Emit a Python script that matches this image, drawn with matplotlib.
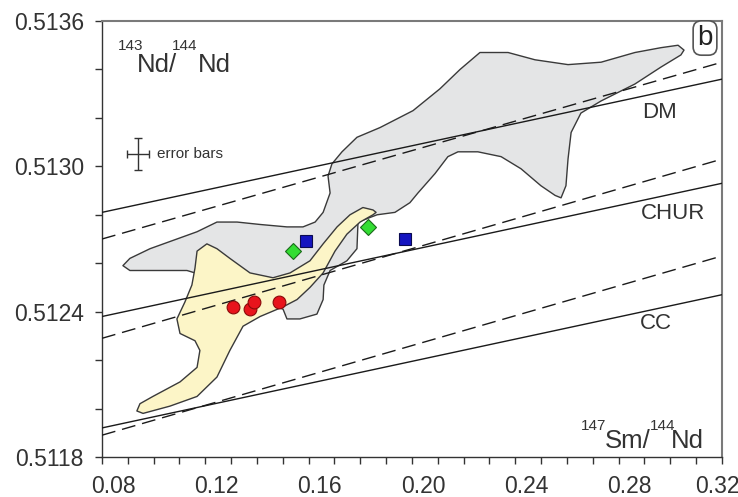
import matplotlib.pyplot as plt
import matplotlib.transforms as mtransforms
from matplotlib.ticker import MultipleLocator, FormatStrFormatter

plt.rcParams['font.family'] = ['Liberation Sans', 'DejaVu Sans']

# reference lines, values at x = 0.08 and x = 0.32
line_x = [0.08, 0.32]
dm_solid = [0.51281, 0.51336]
dm_dash = [0.51270, 0.51343]
chur_solid = [0.51238, 0.51293]
chur_dash = [0.51229, 0.51303]
cc_solid = [0.51192, 0.51247]
cc_dash = [0.51189, 0.51263]

# grey field outline
gray_x = [0.0881, 0.0908, 0.0986, 0.1090, 0.1168, 0.1245, 0.1323, 0.1412, 0.1516, 0.1578,
          0.1625, 0.1656, 0.1683, 0.1675, 0.1690, 0.1729, 0.1787, 0.1876, 0.2004, 0.2108,
          0.2186, 0.2263, 0.2372, 0.2476, 0.2604, 0.2732, 0.2863, 0.2964, 0.3030, 0.3053,
          0.3041, 0.2964, 0.2863, 0.2732, 0.2654, 0.2616, 0.2604, 0.2596, 0.2577, 0.2554,
          0.2499, 0.2422, 0.2345, 0.2255, 0.2178, 0.2139, 0.2089, 0.2023, 0.1992, 0.1934,
          0.1865, 0.1791, 0.1787, 0.1748, 0.1683, 0.1659, 0.1656, 0.1632, 0.1566, 0.1516,
          0.1501, 0.1412, 0.1160, 0.1129, 0.1025, 0.0908]
gray_y = [0.51259, 0.51262, 0.51266, 0.51270, 0.51273, 0.51277, 0.51277, 0.51276, 0.51275, 0.51275,
          0.51277, 0.51281, 0.51289, 0.51296, 0.51301, 0.51306, 0.51312, 0.51316, 0.51323, 0.51332,
          0.51340, 0.51347, 0.51347, 0.51344, 0.51342, 0.51343, 0.51347, 0.51349, 0.51350, 0.51348,
          0.51346, 0.51341, 0.51334, 0.51327, 0.51322, 0.51314, 0.51303, 0.51292, 0.51287, 0.51288,
          0.51292, 0.51299, 0.51304, 0.51306, 0.51306, 0.51304, 0.51297, 0.51289, 0.51285, 0.51281,
          0.51280, 0.51277, 0.51266, 0.51261, 0.51257, 0.51251, 0.51245, 0.51239, 0.51237, 0.51237,
          0.51241, 0.51245, 0.51256, 0.51257, 0.51257, 0.51257]

# yellow field outline
yellow_x = [0.1168, 0.1206, 0.1245, 0.1295, 0.1373, 0.1462, 0.1528, 0.1605, 0.1656, 0.1710,
            0.1760, 0.1810, 0.1849, 0.1861, 0.1849, 0.1799, 0.1748, 0.1702, 0.1656, 0.1605,
            0.1555, 0.1501, 0.1412, 0.1346, 0.1295, 0.1245, 0.1168, 0.1063, 0.0959, 0.0935,
            0.0947, 0.0997, 0.1102, 0.1168, 0.1179, 0.1160, 0.1102, 0.1090, 0.1121, 0.1148,
            0.1160]
yellow_y = [0.51265, 0.51268, 0.51266, 0.51262, 0.51256, 0.51254, 0.51256, 0.51261, 0.51268, 0.51275,
            0.51280, 0.51283, 0.51282, 0.51281, 0.51280, 0.51277, 0.51272, 0.51265, 0.51256, 0.51250,
            0.51245, 0.51242, 0.51238, 0.51234, 0.51224, 0.51213, 0.51205, 0.51201, 0.51198, 0.51199,
            0.51202, 0.51205, 0.51211, 0.51217, 0.51224, 0.51228, 0.51231, 0.51237, 0.51244, 0.51251,
            0.51258]

# samples
red_x = [0.1307, 0.1373, 0.1388, 0.1485]
red_y = [0.51242, 0.51241, 0.51244, 0.51244]
blue_x = [0.1590, 0.1973]
blue_y = [0.51269, 0.51270]
green_x = [0.1539, 0.1830]
green_y = [0.51265, 0.51275]

# error bar symbol
err_x, err_y = 0.0939, 0.51305
err_dx, err_dy = 0.0043, 0.000066

fig = plt.figure(figsize=(7.38, 4.97), dpi=100)
ax = fig.add_axes([0.1382, 0.0805, 0.8401, 0.8772])

ax.fill(gray_x, gray_y, facecolor='#e4e5e6', edgecolor='#3a3a3a', lw=1.0, joinstyle='round', zorder=1)
ax.fill(yellow_x, yellow_y, facecolor='#fcf5c7', edgecolor='#3a3a3a', lw=1.0, joinstyle='round', zorder=2)

for ys in [dm_solid, chur_solid, cc_solid]:
    ax.plot(line_x, ys, color='#1a1a1a', lw=1.0, zorder=3)
for ys in [dm_dash, chur_dash, cc_dash]:
    ax.plot(line_x, ys, color='#1a1a1a', lw=1.0, ls=(0, (10, 5)), zorder=3)

ax.plot(red_x, red_y, 'o', ms=9.2, mfc='#e8141c', mec='#8a0a0a', mew=0.8, zorder=5)
ax.plot(blue_x, blue_y, 's', ms=9.0, mfc='#1414c0', mec='#0a0a50', mew=0.8, zorder=5)
ax.plot(green_x, green_y, 'D', ms=8.6, mfc='#33dd33', mec='#1a6a1a', mew=0.8, zorder=5)

ax.errorbar([err_x], [err_y], xerr=[err_dx], yerr=[err_dy], fmt='none',
            ecolor='#333333', elinewidth=1.0, capsize=3, capthick=1.0, zorder=4)
ax.text(err_x + 0.0075, err_y, 'error bars', fontsize=11, va='center', ha='left', color='#333333')

ax.text(0.296, 0.513224, 'DM', fontsize=16, ha='center', va='center', color='#333333')
ax.text(0.301, 0.512807, 'CHUR', fontsize=16, ha='center', va='center', color='#333333')
ax.text(0.2945, 0.51235, 'CC', fontsize=16, ha='center', va='center', color='#333333')

# axis titles drawn inside the frame, superscripts placed as in the original
big, small = 18.5, 11
txt = dict(transform=ax.transAxes, ha='left', va='baseline', color='#333333')
ax.text(0.0258, 0.9335, '143', fontsize=small, **txt)
ax.text(0.0565, 0.8830, 'Nd/', fontsize=big, **txt)
ax.text(0.1129, 0.9335, '144', fontsize=small, **txt)
ax.text(0.1548, 0.8830, 'Nd', fontsize=big, **txt)
ax.text(0.7726, 0.0619, '147', fontsize=small, **txt)
ax.text(0.8113, 0.0206, 'Sm/', fontsize=big, **txt)
ax.text(0.8839, 0.0619, '144', fontsize=small, **txt)
ax.text(0.9177, 0.0206, 'Nd', fontsize=big, **txt)

ax.text(0.9726, 0.961, 'b', transform=ax.transAxes, fontsize=20, ha='center', va='center',
        color='#222222',
        bbox=dict(boxstyle='round,pad=0.15,rounding_size=0.3', fc='white', ec='#555555', lw=1.2))

ax.set_xlim(0.08, 0.32)
ax.set_ylim(0.5118, 0.5136)
ax.xaxis.set_major_locator(MultipleLocator(0.04))
ax.xaxis.set_minor_locator(MultipleLocator(0.01))
ax.yaxis.set_major_locator(MultipleLocator(0.0006))
ax.yaxis.set_minor_locator(MultipleLocator(0.0002))
ax.xaxis.set_major_formatter(FormatStrFormatter('%.2f'))
ax.yaxis.set_major_formatter(FormatStrFormatter('%.4f'))
ax.tick_params(which='both', direction='out', length=5, width=1.0, color='#333333',
               top=False, right=False)
ax.tick_params(which='major', labelsize=16.5, labelcolor='#333333', pad=8)

for s in ['left', 'bottom']:
    ax.spines[s].set_color('#333333')
    ax.spines[s].set_linewidth(1.0)
for s in ['top', 'right']:
    ax.spines[s].set_color('#7a7a7a')
    ax.spines[s].set_linewidth(1.5)

# x labels sit a little right of their ticks in the original, the last one runs off the edge
fig.canvas.draw()
for lab in ax.get_xticklabels():
    dx = -0.05 if lab.get_text() == '0.32' else 0.11
    lab.set_transform(lab.get_transform() + mtransforms.ScaledTranslation(dx, 0, fig.dpi_scale_trans))

fig.savefig('out.png', dpi=100)
